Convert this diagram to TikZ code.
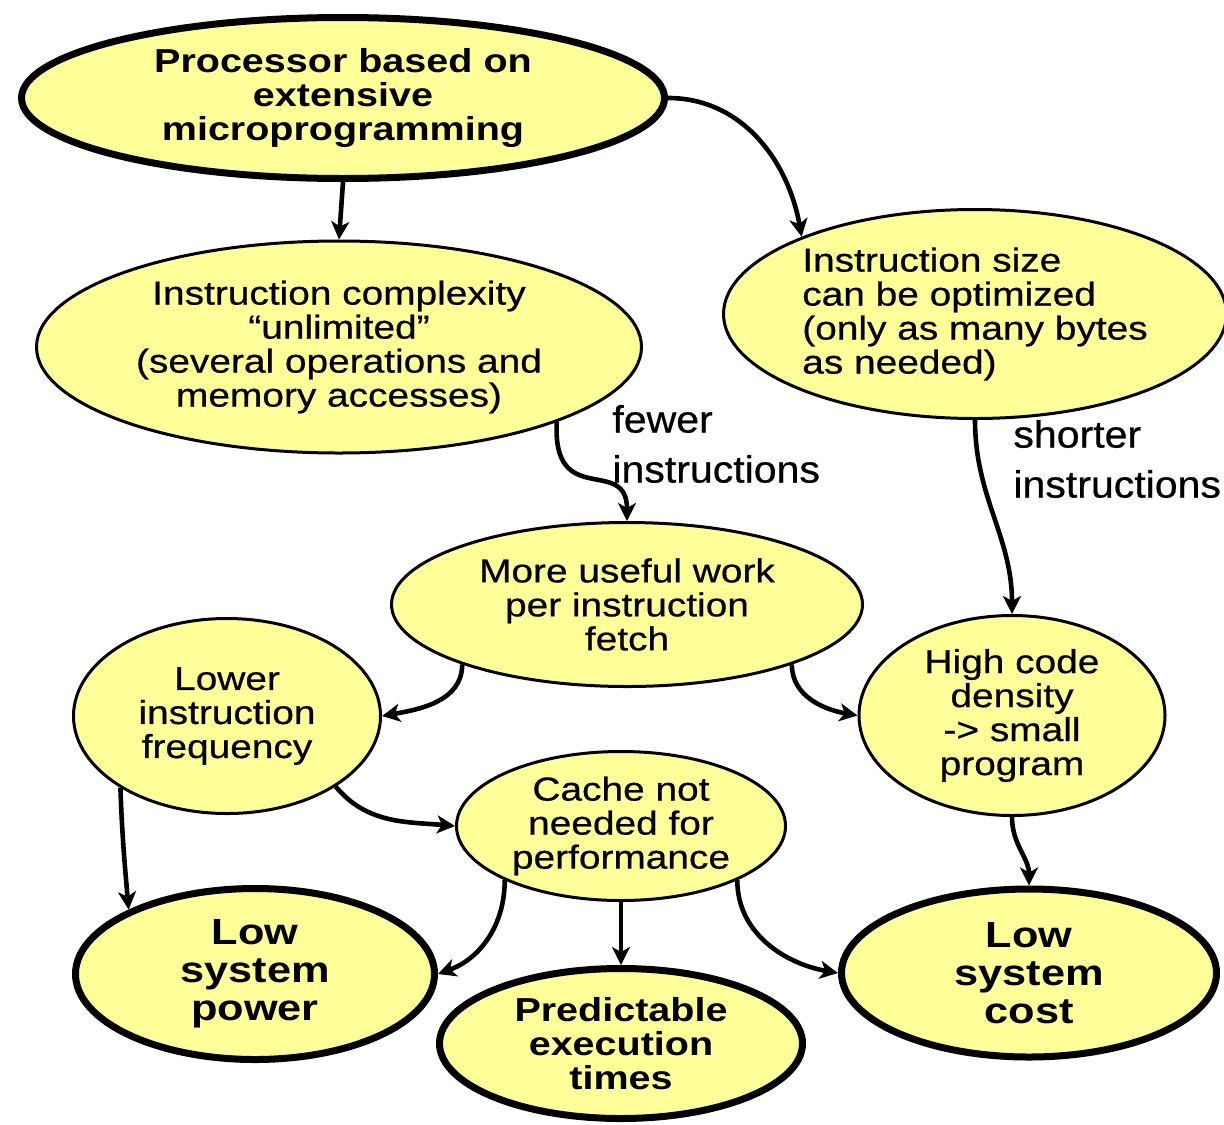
\documentclass[tikz,border=0pt]{standalone}
\usepackage{fontspec}
\setmainfont{Liberation Sans}
\newfontfamily\wfont[FakeStretch=1.17,FakeBold=0.6]{Liberation Sans}
\newfontfamily\bwfont[FakeStretch=1.19]{Liberation Sans}
\newfontfamily\lfont[FakeStretch=1.08,FakeBold=0.6]{Liberation Sans}
\usetikzlibrary{shapes.geometric,arrows.meta}
\definecolor{nodefill}{HTML}{FFFF99}
\tikzset{
  ellbase/.style={ellipse, fill=nodefill, draw=black, inner sep=0pt, align=center},
  softnode/.style={ellbase, line width=1.5pt, font=\wfont\fontsize{16.6pt}{17pt}\selectfont},
  hardnode/.style={ellbase, line width=3.5pt, font=\bwfont\bfseries\fontsize{16.6pt}{17pt}\selectfont},
  bignode/.style={ellbase, line width=3.5pt, font=\bwfont\bfseries\fontsize{18.2pt}{19pt}\selectfont},
  conn/.style={line width=2.3pt, -{Stealth[length=9pt,width=9pt,inset=2.5pt]}},
  lbl/.style={align=left, inner sep=0pt, font=\lfont\fontsize{19pt}{25pt}\selectfont}
}
\begin{document}
\begin{tikzpicture}[x=0.5pt,y=-0.5pt]
\useasboundingbox (0,0) rectangle (1224,1124);
\fill[white] (0,0) rectangle (1224,1124);
% nodes
\node[hardnode, minimum width=321.5pt, minimum height=80.5pt] (top) at (343,98)
  {Processor based on\\extensive\\microprogramming};
\node[softnode, minimum width=302.5pt, minimum height=106pt] (ic) at (339,347)
  {Instruction complexity\\“unlimited”\\(several operations and\\memory accesses)};
\node[softnode, align=left, minimum width=251.5pt, minimum height=104.5pt] (is) at (975,314)
  {Instruction size\\can be optimized\\(only as many bytes\\as needed)};
\node[softnode, minimum width=235.5pt, minimum height=82pt] (muw) at (627,604.5)
  {More useful work\\per instruction\\fetch};
\node[softnode, minimum width=153.5pt, minimum height=97.5pt] (lif) at (227,716)
  {Lower\\instruction\\frequency};
\node[softnode, minimum width=153pt, minimum height=100pt] (hcd) at (1012,715.5)
  {High code\\density\\-> small\\program};
\node[softnode, minimum width=164.5pt, minimum height=74.5pt] (cache) at (621,826)
  {Cache not\\needed for\\performance};
\node[bignode, minimum width=179.5pt, minimum height=85.5pt] (lsp) at (255,974)
  {Low\\system\\power};
\node[hardnode, minimum width=181.5pt, minimum height=75pt] (pet) at (621,1043.5)
  {Predictable\\execution\\times};
\node[bignode, minimum width=187.5pt, minimum height=84pt] (lsc) at (1029,973)
  {Low\\system\\cost};
% labels
\node[lbl, anchor=west] (fewer) at (612,444) {fewer\\instructions};
\node[lbl, anchor=west] (shorter) at (1013,459) {shorter\\instructions};
% connectors
\draw[conn] (top.south) -- (ic.north);
\draw[conn] (top.east) to[out=0,in=100] (is.156);
\draw[conn] (ic.-19) .. controls (552,510) and (627,455) .. (muw.north);
\draw[conn] (is.south) to[out=-90,in=90] (hcd.north);
\draw[conn] (muw.-160) to[out=-90,in=10] (lif.east);
\draw[conn] (muw.-20) to[out=-90,in=170] (hcd.west);
\draw[conn] (lif.-146) to[out=-88,in=95] (lsp.153);
\draw[conn] (lif.-33) to[out=-50,in=175] (cache.west);
\draw[conn] (hcd.south) to[out=-90,in=90] (lsc.north);
\draw[conn] (cache.-155) to[out=-90,in=20] (lsp.east);
\draw[conn] (cache.south) -- (pet.north);
\draw[conn] (cache.-25) to[out=-90,in=170] (lsc.west);
\end{tikzpicture}
\end{document}
